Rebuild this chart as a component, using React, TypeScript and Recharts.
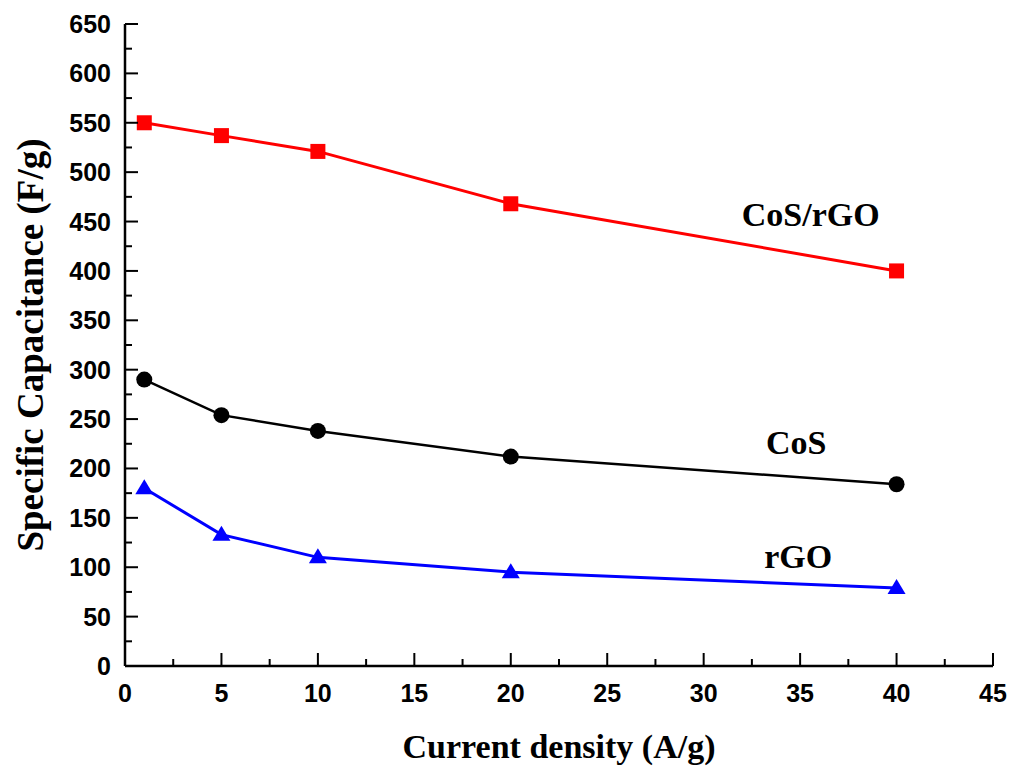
import React from 'react';
import { LineChart, Line, XAxis, YAxis, ReferenceDot } from 'recharts';

const currentDensity = [1, 5, 10, 20, 40];
const cosRgo = [550, 537, 521, 468, 400];
const cos = [290, 254, 238, 212, 184];
const rgo = [180, 133, 110, 95, 79];

const xTicks = [0, 2.5, 5, 7.5, 10, 12.5, 15, 17.5, 20, 22.5, 25, 27.5, 30, 32.5, 35, 37.5, 40, 42.5, 45];
const yTicks = [0, 25, 50, 75, 100, 125, 150, 175, 200, 225, 250, 275, 300, 325, 350, 375, 400, 425, 450, 475, 500, 525, 550, 575, 600, 625, 650];

const labels = [
  { x: 35.55, y: 458, text: 'CoS/rGO' },
  { x: 34.8, y: 227, text: 'CoS' },
  { x: 34.9, y: 111, text: 'rGO' },
];

const data = currentDensity.map((x, i) => ({ x, cosRgo: cosRgo[i], cos: cos[i], rgo: rgo[i] }));

const sans = '"Liberation Sans", Arial, sans-serif';
const serif = '"Liberation Serif", "Times New Roman", serif';

function XTick(props: any) {
  const { x, y, payload } = props;
  const v = payload.value;
  const major = v % 5 === 0;
  return (
    <g>
      <line x1={x} x2={x} y1={y} y2={y - (major ? 13 : 7)} stroke="#000" strokeWidth={2} />
      {major && (
        <text x={x} y={y + 36} textAnchor="middle" fontFamily={sans} fontWeight="bold" fontSize={25} fill="#000">
          {v}
        </text>
      )}
    </g>
  );
}

function YTick(props: any) {
  const { x, y, payload } = props;
  const v = payload.value;
  const major = v % 50 === 0;
  return (
    <g>
      <line x1={x} x2={x + (major ? 13 : 7)} y1={y} y2={y} stroke="#000" strokeWidth={2} />
      {major && (
        <text x={x - 14} y={y + 9} textAnchor="end" fontFamily={sans} fontWeight="bold" fontSize={25} fill="#000">
          {v}
        </text>
      )}
    </g>
  );
}

const squareDot = (p: any) => (
  <rect key={p.index} x={p.cx - 7.5} y={p.cy - 7.5} width={15} height={15} fill="#ff0000" />
);
const circleDot = (p: any) => <circle key={p.index} cx={p.cx} cy={p.cy} r={8} fill="#000" />;
const triangleDot = (p: any) => (
  <polygon
    key={p.index}
    points={`${p.cx},${p.cy - 9} ${p.cx + 9},${p.cy + 6} ${p.cx - 9},${p.cy + 6}`}
    fill="#0000ff"
  />
);

export default function App() {
  return (
    <div style={{ width: 1013, height: 770, background: '#fff' }}>
      <style>{'body{margin:0}'}</style>
      <LineChart width={1013} height={770} data={data} margin={{ top: 24, right: 20, left: 0, bottom: 0 }}>
        <XAxis
          dataKey="x"
          type="number"
          domain={[0, 45]}
          ticks={xTicks}
          interval={0}
          tickSize={0}
          tickMargin={0}
          tick={<XTick />}
          axisLine={{ stroke: '#000', strokeWidth: 2.5 }}
          tickLine={false}
          height={104}
          label={{
            value: 'Current density (A/g)',
            position: 'insideBottom',
            offset: 12,
            style: { fontFamily: serif, fontWeight: 'bold', fontSize: 34, fill: '#000' },
          }}
        />
        <XAxis
          xAxisId="top"
          orientation="top"
          dataKey="x"
          type="number"
          domain={[0, 45]}
          tick={false}
          tickLine={false}
          axisLine={{ stroke: '#000', strokeWidth: 2.5 }}
          height={0}
        />
        <YAxis
          type="number"
          domain={[0, 650]}
          ticks={yTicks}
          interval={0}
          tickSize={0}
          tickMargin={0}
          tick={<YTick />}
          axisLine={{ stroke: '#000', strokeWidth: 2.5 }}
          tickLine={false}
          width={125}
          label={{
            value: 'Specific Capacitance (F/g)',
            angle: -90,
            position: 'insideLeft',
            offset: 30,
            style: { textAnchor: 'middle', fontFamily: serif, fontWeight: 'bold', fontSize: 37, fill: '#000' },
          }}
        />
        <YAxis
          yAxisId="right"
          orientation="right"
          type="number"
          domain={[0, 650]}
          tick={false}
          tickLine={false}
          axisLine={{ stroke: '#000', strokeWidth: 2.5 }}
          width={0}
        />
        <Line dataKey="cosRgo" stroke="#ff0000" strokeWidth={3} dot={squareDot} isAnimationActive={false} />
        <Line dataKey="cos" stroke="#000" strokeWidth={2.5} dot={circleDot} isAnimationActive={false} />
        <Line dataKey="rgo" stroke="#0000ff" strokeWidth={3} dot={triangleDot} isAnimationActive={false} />
        {labels.map((l) => (
          <ReferenceDot
            key={l.text}
            x={l.x}
            y={l.y}
            r={0}
            stroke="none"
            label={{
              value: l.text,
              position: 'center',
              style: { fontFamily: serif, fontWeight: 'bold', fontSize: 34, fill: '#000' },
            }}
          />
        ))}
      </LineChart>
    </div>
  );
}
